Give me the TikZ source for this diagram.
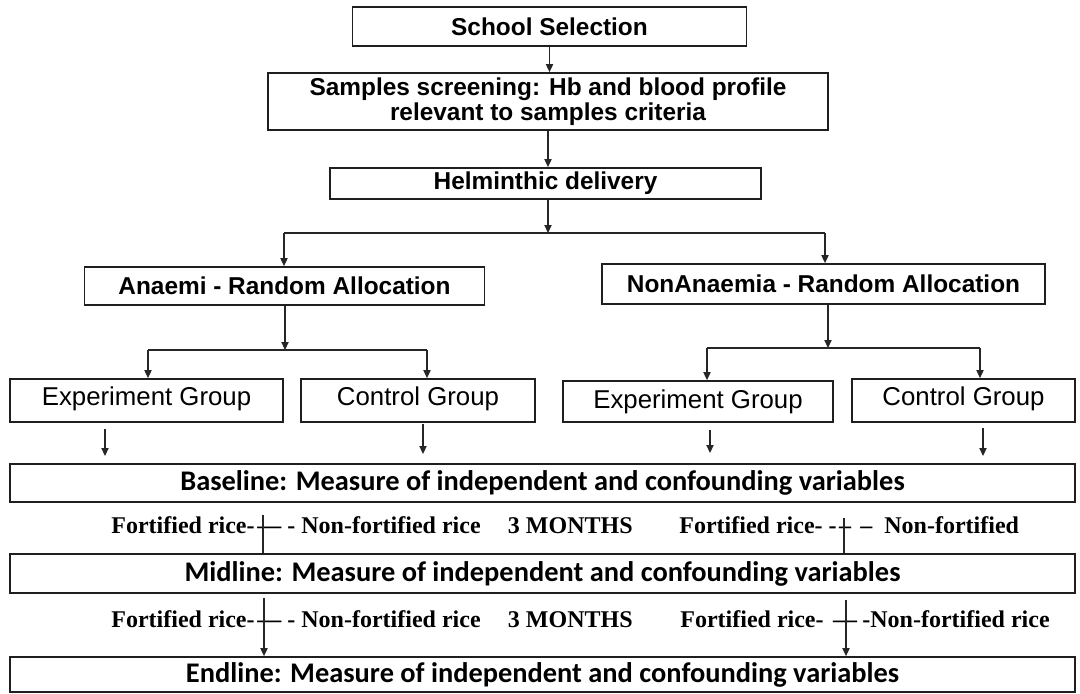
\documentclass[tikz,border=0pt]{standalone}
\usepackage{fontspec}
\newfontfamily\arialf{Liberation Sans}
\newfontfamily\calf{Carlito}
\newfontfamily\tnrf{Liberation Serif}
\usetikzlibrary{arrows.meta}
\begin{document}
\begin{tikzpicture}[x=0.5pt,y=-0.5pt,
  box/.style={draw=black!88, line width=0.9pt, inner sep=0pt, align=center},
  topbox/.style={box, font=\arialf\bfseries\fontsize{12.2pt}{11pt}\selectfont},
  grpbox/.style={box, font=\arialf\fontsize{12.9pt}{14pt}\selectfont, text height=9.2pt, text depth=4.5pt},
  linebox/.style={box, font=\calf\bfseries\fontsize{14.2pt}{16pt}\selectfont},
  rowtxt/.style={inner sep=0pt, font=\tnrf\bfseries\fontsize{12pt}{14pt}\selectfont},
  conn/.style={draw=black!85, line width=0.6pt},
  arr/.style={conn, -{Triangle[length=4pt,width=3.6pt]}},
]
\fill[white] (0,0) rectangle (1080,693);
\useasboundingbox (0,0) rectangle (1080,693);

% top chain
\node[topbox, minimum width=197pt, minimum height=19.5pt] (school) at (549.5,26.5) {School Selection};
\node[topbox, minimum width=280pt, minimum height=28.5pt] (samples) at (548,101.5) {Samples screening: Hb and blood profile\\relevant to samples criteria};
\node[topbox, minimum width=215.5pt, minimum height=15.5pt] (helm) at (545.5,183.5) {Helminthic delivery};
\node[topbox, minimum width=200pt, minimum height=19pt] (anaemi) at (284.5,286) {Anaemi - Random Allocation};
\node[topbox, minimum width=221.5pt, minimum height=20pt] (nonan) at (823.5,284) {NonAnaemia - Random Allocation};

% groups
\node[grpbox, minimum width=136.5pt, minimum height=21.5pt] (expL) at (146.5,400.5) {Experiment Group};
\node[grpbox, minimum width=117pt, minimum height=21.5pt] (ctrlL) at (418,400.5) {Control Group};
\node[grpbox, minimum width=135pt, minimum height=20.5pt, text depth=2.5pt] (expR) at (698,401.5) {Experiment Group};
\node[grpbox, minimum width=111.5pt, minimum height=21.5pt] (ctrlR) at (963.5,400.5) {Control Group};

% measurement boxes
\node[linebox, minimum width=532.5pt, minimum height=19pt] (base) at (542.5,483) {Baseline: Measure of independent and confounding variables};
\node[linebox, minimum width=532.5pt, minimum height=19.5pt] (mid) at (542.5,573.5) {Midline: Measure of independent and confounding variables};
\node[linebox, minimum width=532.5pt, minimum height=17.5pt] (endl) at (542.5,674.5) {Endline: Measure of independent and confounding variables};

% connectors top
\draw[arr] (school.south) -- (school.south |- samples.north);
\draw[arr] (samples.south) -- (samples.south |- helm.north);
\coordinate (j1) at (548,233);
\coordinate (j1l) at (284,233);
\coordinate (j1r) at (825,233);
\draw[arr] (samples.south |- helm.south) -- (j1);
\draw[conn] (j1l) -- (j1r);
\draw[arr] (j1l) -- (j1l |- anaemi.north);
\draw[arr] (j1r) -- (j1r |- nonan.north);

% anaemi split
\coordinate (j2) at (285,350);
\coordinate (j2l) at (148,350);
\coordinate (j2r) at (427,350);
\draw[arr] (j2 |- anaemi.south) -- (j2);
\draw[conn] (j2l) -- (j2r);
\draw[arr] (j2l) -- (j2l |- expL.north);
\draw[arr] (j2r) -- (j2r |- ctrlL.north);

% nonanaemia split
\coordinate (j3) at (828,348);
\coordinate (j3l) at (707,348);
\coordinate (j3r) at (980,348);
\draw[arr] (j3 |- nonan.south) -- (j3);
\draw[conn] (j3l) -- (j3r);
\draw[arr] (j3l) -- (j3l |- expR.north);
\draw[arr] (j3r) -- (j3r |- ctrlR.north);

% free arrows to baseline
\coordinate (a1) at (105,429);
\coordinate (a2) at (423,424);
\coordinate (a3) at (710,430);
\coordinate (a4) at (983,428);
\draw[arr] (a1) -- (105,456);
\draw[arr] (a2) -- (423,454);
\draw[arr] (a3) -- (710,453);
\draw[arr] (a4) -- (983,456);

% row 1
\node[rowtxt, anchor=base east] (f1) at (255,533) {Fortified rice-};
\node[rowtxt, anchor=base west] (n1) at (257,533) {— - Non-fortified rice};
\node[rowtxt, anchor=base east] (m1) at (633,533) {3 MONTHS};
\node[rowtxt, anchor=base east] (f1r) at (837,533) {Fortified rice- -};
\node[rowtxt, anchor=base] (c1r) at (845,533) {–};
\node[rowtxt, anchor=base west] (n1r) at (860,533) {–\hspace{6pt}Non-fortified};
\coordinate (v1) at (263,515);
\coordinate (v2) at (844,518);
\draw[conn] (v1) -- (v1 |- mid.north);
\draw[conn] (v2) -- (v2 |- mid.north);

% row 2
\node[rowtxt, anchor=base east] (f2) at (255,627) {Fortified rice-};
\node[rowtxt, anchor=base west] (n2) at (257,627) {— - Non-fortified rice};
\node[rowtxt, anchor=base east] (m2) at (633,627) {3 MONTHS};
\node[rowtxt, anchor=base east] (f2r) at (824,627) {Fortified rice-};
\node[rowtxt, anchor=base] (c2r) at (845,627) {—};
\node[rowtxt, anchor=base west] (n2r) at (862,627) {-Non-fortified rice};
\coordinate (v3) at (264,598);
\coordinate (v4) at (846,600);
\draw[arr] (v3) -- (v3 |- endl.north);
\draw[arr] (v4) -- (v4 |- endl.north);
\end{tikzpicture}
\end{document}
